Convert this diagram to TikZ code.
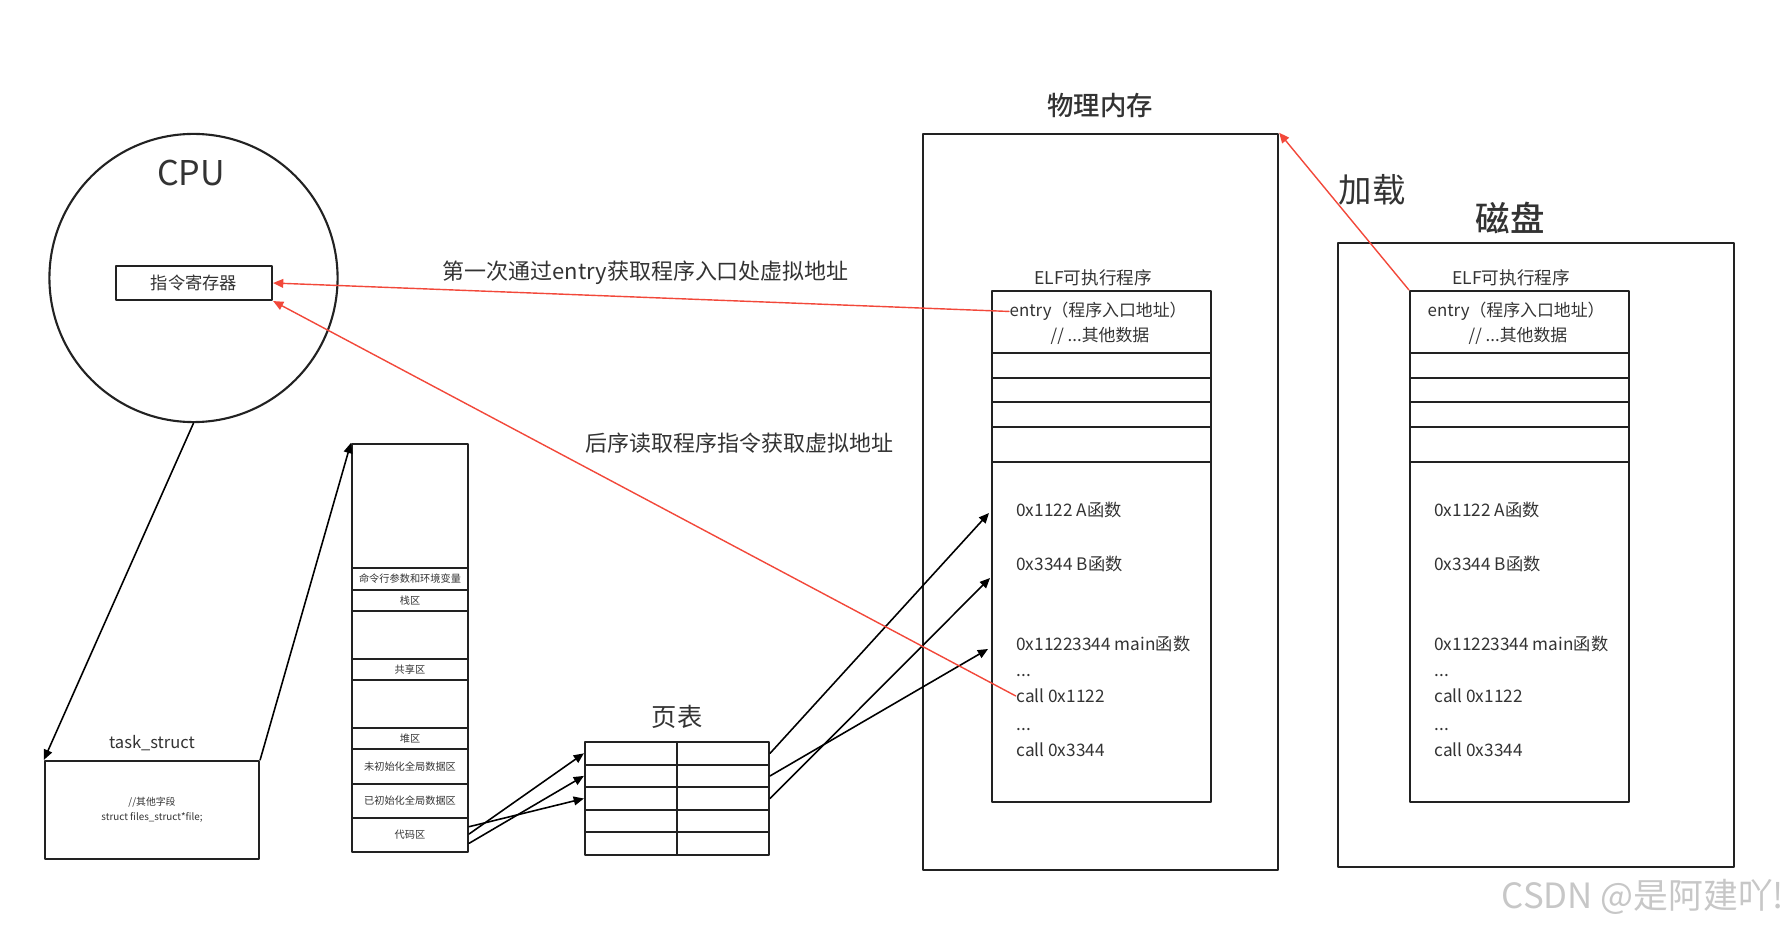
\documentclass[tikz,border=0pt]{standalone}
\usepackage{fontspec}
\setmainfont{Noto Sans CJK SC}
\newfontfamily\medfont{Noto Sans CJK SC Medium}
\usetikzlibrary{arrows.meta}
\definecolor{redline}{RGB}{242,72,58}
\definecolor{txt}{RGB}{51,51,51}
\definecolor{edge}{RGB}{34,34,34}
\newcommand{\fsz}[1]{\fontsize{#1}{#1}\selectfont}
\tikzset{
  box/.style={draw=edge,line width=0.6pt,inner sep=0pt,text=txt},
  seg/.style={box,minimum width=1.16cm,font=\fsz{2.9}},
  cell/.style={box,minimum width=0.92cm,minimum height=0.226cm},
  elfrow/.style={box,minimum width=2.19cm},
  lbl/.style={inner sep=0pt,text=txt},
  fline/.style={lbl,anchor=base west,font=\fsz{4.9}},
  redarr/.style={->,draw=redline,line width=0.4pt},
  blkarr/.style={->,draw=black,line width=0.45pt}
}
\begin{document}
\begin{tikzpicture}[x=0.01cm,y=-0.01cm,line cap=round,line join=round,>={Triangle[length=2.9pt,width=2.5pt]}]
\useasboundingbox (0,0) rectangle (1783,925);
% CPU
\node[circle,draw=edge,line width=0.6pt,minimum size=2.88cm,inner sep=0pt] (cpu) at (193.5,278) {};
\node[lbl,font=\fsz{9.7}] (cpulbl) at (191,173) {CPU};
\node[box,minimum width=1.56cm,minimum height=0.34cm,font=\fsz{4.9}] (ir) at (194,283) {指令寄存器};
% task_struct
\node[box,minimum width=2.14cm,minimum height=0.98cm,align=center,font=\fontsize{2.8}{4.3}\selectfont] (ts) at (152,810) {//其他字段\\struct files\_struct*file;};
\node[lbl,font=\fsz{4.7}] (tslbl) at (152,743) {task\_struct};
% process address space
\node[seg,minimum height=1.24cm] (top) at (410,506) {};
\node[seg,minimum height=0.22cm] (argv) at (410,579) {命令行参数和环境变量};
\node[seg,minimum height=0.21cm] (stack) at (410,600.5) {栈区};
\node[seg,minimum height=0.48cm] (gap1) at (410,635) {};
\node[seg,minimum height=0.21cm] (shared) at (410,669.5) {共享区};
\node[seg,minimum height=0.48cm] (gap2) at (410,704) {};
\node[seg,minimum height=0.21cm] (heap) at (410,738.5) {堆区};
\node[seg,minimum height=0.35cm] (bss) at (410,766.5) {未初始化全局数据区};
\node[seg,minimum height=0.34cm] (data) at (410,801) {已初始化全局数据区};
\node[seg,minimum height=0.34cm] (codeseg) at (410,835) {代码区};
% page table
\node[lbl,font=\fsz{7.2}] (ptlbl) at (677,717) {页表};
\foreach \r in {1,...,5} {
  \node[cell] (ptl\r) at (631,{742+(\r-0.5)*22.6}) {};
  \node[cell] (ptr\r) at (723,{742+(\r-0.5)*22.6}) {};
}
% physical memory and disk
\node[box,minimum width=3.55cm,minimum height=7.36cm] (mem) at (1100.5,502) {};
\node[lbl,font=\medfont\fsz{7.5}] (memlbl) at (1100,105) {物理内存};
\node[box,minimum width=3.96cm,minimum height=6.24cm] (disk) at (1536,555) {};
\node[lbl,font=\medfont\fsz{9.8}] (disklbl) at (1510,218) {磁盘};
\foreach \dx/\side in {0/M,418/D} {
  \begin{scope}[shift={(\dx,0)}]
    \node[lbl,anchor=base,font=\fsz{5}] (elflbl\side) at (1093,285) {ELF可执行程序};
    \node[elfrow,minimum height=0.62cm] (hd\side) at (1101.5,322) {};
    \foreach \cy/\h [count=\k] in {365.8/0.25cm,390.3/0.24cm,414.8/0.25cm,444.7/0.347cm}
      \node[elfrow,minimum height=\h] (row\k\side) at (1101.5,\cy) {};
    \node[elfrow,minimum height=3.4cm] (body\side) at (1101.5,632) {};
    \node[lbl,anchor=base west,font=\fsz{4.8}] (entry\side) at (1009,316.7) {entry（程序入口地址）};
    \node[lbl,anchor=base,font=\fsz{4.8}] (other\side) at (1100,341.7) {// ...其他数据};
    \foreach \yy/\txt/\nm in {516.7/0x1122 A函数/fA,570/0x3344 B函数/fB,650/0x11223344 main函数/fmain,676/.{}.{}./dotsA,702.7/call 0x1122/callA,730/.{}.{}./dotsB,756/call 0x3344/callB}
      \node[fline] (\nm\side) at (1015.7,\yy) {\txt};
  \end{scope}
}
% connectors
\draw[blkarr] (cpu.south) -- (ts.north west);
\draw[blkarr] (ts.north east) -- (top.north west);
\draw[blkarr] ([yshift=0.083cm]codeseg.east) -- (ptl3.west);
\draw[blkarr] ([yshift=0.01cm]codeseg.east) -- (ptl1.west);
\draw[blkarr] ([yshift=-0.083cm]codeseg.east) -- (ptl2.west);
\coordinate (toA) at (989,513);
\coordinate (toB) at (990,578);
\coordinate (toMain) at (988,649);
\draw[blkarr] (ptr1.east) -- (toA);
\draw[blkarr] (ptr2.east) -- (toMain);
\draw[blkarr] (ptr3.east) -- (toB);
\draw[redarr] (entryM.west) -- (ir.east);
\draw[redarr] (callAM.west) -- (ir.south east);
\draw[redarr] (hdD.north west) -- (mem.north east);
\node[lbl,anchor=west,font=\fsz{6.25}] (firstlbl) at (442,272.7) {第一次通过entry获取程序入口处虚拟地址};
\node[lbl,anchor=west,font=\fsz{6.25}] (nextlbl) at (585,443.3) {后序读取程序指令获取虚拟地址};
\node[lbl,font=\fsz{9.5}] (loadlbl) at (1372,190) {加载};
\node[lbl,anchor=west,text=black!22,font=\fsz{9.9}] (mark) at (1501,897) {CSDN @是阿建吖!};
\end{tikzpicture}
\end{document}
